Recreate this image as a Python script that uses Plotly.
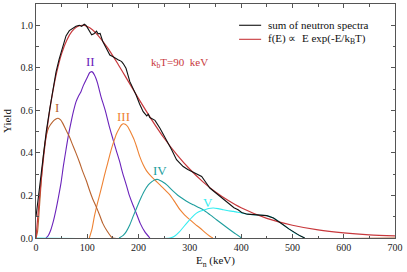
import plotly.graph_objects as go

# ---------------- data ----------------
sum_E = [0, 5, 10, 15, 20, 27, 33, 39, 45, 52, 58.5, 65, 71.5, 78, 84.5, 89, 94, 97, 100, 104,
         108.5, 113, 118, 121, 125, 130, 137, 144, 149.5, 154, 160, 163, 167, 170, 175.5, 183, 190,
         195, 202, 209, 216, 219, 222, 226, 232, 241.7, 248, 254.8, 264.5, 274, 287, 296, 303.5,
         313, 323, 331, 339, 349, 359, 368, 378, 386, 394, 401, 412, 424, 438, 450, 463, 472, 482,
         493, 505, 515, 524]
sum_Y = [0.10, 0.20, 0.31, 0.41, 0.50, 0.61, 0.70, 0.78, 0.84, 0.90, 0.95, 0.975, 0.985, 0.995,
         1.0, 0.995, 1.005, 1.0, 0.99, 0.975, 0.955, 0.96, 0.972, 0.96, 0.962, 0.925, 0.89, 0.86,
         0.853, 0.845, 0.838, 0.835, 0.829, 0.82, 0.798, 0.735, 0.70, 0.673, 0.63, 0.594, 0.574,
         0.582, 0.566, 0.56, 0.553, 0.516, 0.49, 0.461, 0.415, 0.368, 0.336, 0.322, 0.313, 0.305,
         0.289, 0.262, 0.235, 0.215, 0.195, 0.175, 0.156, 0.142, 0.133, 0.120, 0.112, 0.109, 0.107,
         0.105, 0.094, 0.080, 0.062, 0.043, 0.023, 0.010, 0.0]

fit_E = [0, 5, 10, 15, 20, 30, 40, 50, 60, 70, 80, 90, 100, 110, 120, 140, 160, 180, 200, 225,
         250, 275, 300, 325, 350, 375, 400, 450, 500, 550, 600, 650, 700]
fit_Y = [0, 0.143, 0.270, 0.384, 0.484, 0.649, 0.775, 0.867, 0.930, 0.971, 0.993, 1.0, 0.994,
         0.979, 0.955, 0.893, 0.817, 0.736, 0.655, 0.558, 0.469, 0.391, 0.323, 0.265, 0.216,
         0.176, 0.142, 0.092, 0.060, 0.038, 0.024, 0.015, 0.010]

I_E = [0, 3, 6, 10, 15, 20, 25, 32, 38, 43, 48, 52, 58, 65, 71, 78, 85, 91, 98, 104, 110, 117,
       124, 130, 138, 146, 150, 700]
I_Y = [0, 0.03, 0.12, 0.26, 0.40, 0.48, 0.52, 0.545, 0.558, 0.563, 0.555, 0.540, 0.51, 0.477,
       0.44, 0.399, 0.355, 0.313, 0.27, 0.227, 0.187, 0.149, 0.108, 0.070, 0.035, 0.008, 0, 0]

II_E = [19.5, 24, 29, 34, 39, 44, 48.7, 53.5, 58.5, 63, 68, 73, 78, 83, 87.7, 92, 97.5, 101, 104,
        106.5, 108.5, 111, 113.7, 117, 120, 123, 126.7, 135, 143, 150, 156, 163, 169, 176, 182,
        189, 195, 203, 212, 222]
II_Y = [0, 0.012, 0.039, 0.08, 0.133, 0.195, 0.258, 0.34, 0.415, 0.48, 0.540, 0.595, 0.640, 0.668,
        0.688, 0.715, 0.743, 0.76, 0.775, 0.78, 0.782, 0.778, 0.767, 0.75, 0.728, 0.70, 0.665,
        0.60, 0.524, 0.465, 0.415, 0.36, 0.305, 0.25, 0.20, 0.155, 0.12, 0.07, 0.03, 0]

III_E = [104, 109, 113.7, 120, 126.7, 133, 139.8, 146, 152.7, 157, 162.5, 166, 170, 174, 178.7,
         183, 187, 191.7, 196, 202, 209, 215, 222, 232, 241.7, 251, 261, 270, 280.7, 290, 300,
         310, 319.7, 330, 339, 345]
III_Y = [0, 0.04, 0.10, 0.165, 0.227, 0.29, 0.352, 0.41, 0.461, 0.49, 0.516, 0.53, 0.537, 0.535,
         0.524, 0.505, 0.485, 0.46, 0.43, 0.385, 0.344, 0.318, 0.297, 0.272, 0.250, 0.227, 0.203,
         0.172, 0.133, 0.108, 0.086, 0.065, 0.047, 0.025, 0.008, 0]

IV_E = [162, 170, 176, 183, 190, 196, 203, 211, 219, 226, 232, 238, 242, 248, 255, 261, 268, 277,
        287, 297, 307, 316, 326, 339, 352, 365, 378, 390, 401]
IV_Y = [0, 0.012, 0.03, 0.062, 0.105, 0.14, 0.18, 0.22, 0.25, 0.265, 0.274, 0.275, 0.270, 0.262,
        0.250, 0.236, 0.219, 0.20, 0.183, 0.168, 0.156, 0.145, 0.133, 0.11, 0.086, 0.062, 0.039,
        0.018, 0]

V_E = [0, 261, 270, 280, 294, 304, 313, 321, 329, 337, 346, 355, 365, 375, 385, 393, 401, 412,
       424, 438, 450, 463, 472, 482, 493, 505, 515, 524]
V_Y = [0, 0, 0.008, 0.03, 0.07, 0.097, 0.117, 0.127, 0.133, 0.139, 0.141, 0.138, 0.133, 0.128,
       0.125, 0.121, 0.118, 0.112, 0.109, 0.107, 0.105, 0.094, 0.080, 0.062, 0.043, 0.023, 0.010, 0]

x_ticks = [0, 100, 200, 300, 400, 500, 600, 700]
y_ticks = [0.0, 0.2, 0.4, 0.6, 0.8, 1.0]
y_tick_labels = ["0.0", "0.2", "0.4", "0.6", "0.8", "1.0"]

# ---------------- styles ----------------
C_I = "#b8622e"
C_II = "#6a22bb"
C_III = "#ee8233"
C_IV = "#1f9e9e"
C_V = "#35ecf0"
C_FIT = "#c8383c"
C_SUM = "#111111"
FONT = "Liberation Serif, Times New Roman, Times, serif"

fig = go.Figure()

def comp(x, y, c, name, shape="spline"):
    fig.add_trace(go.Scatter(x=x, y=y, mode="lines", name=name, showlegend=False,
                             line=dict(color=c, width=1.1, shape=shape, smoothing=0.6)))

comp(II_E, II_Y, C_II, "II")
comp(III_E, III_Y, C_III, "III")
comp(IV_E, IV_Y, C_IV, "IV")
comp(V_E, V_Y, C_V, "V")
comp(I_E, I_Y, C_I, "I")
fig.add_trace(go.Scatter(x=fit_E, y=fit_Y, mode="lines", name="fit", showlegend=False,
                         line=dict(color=C_FIT, width=1.2, shape="spline", smoothing=0.8)))
fig.add_trace(go.Scatter(x=sum_E, y=sum_Y, mode="lines", name="sum", showlegend=False,
                         line=dict(color=C_SUM, width=1.1)))

# manual legend (data coordinates)
legend_rows = [("sum of neutron spectra", C_SUM, 1.0),
               ("f(E) \u221d  E exp(-E/k<sub>B</sub>T)", C_FIT, 0.934)]
for txt, col, yy in legend_rows:
    fig.add_shape(type="line", x0=396, x1=439, y0=yy, y1=yy, xref="x", yref="y",
                  line=dict(color=col, width=1.1))
    fig.add_annotation(x=448, y=yy, xref="x", yref="y", text=txt, showarrow=False,
                       xanchor="left", yanchor="middle",
                       font=dict(family=FONT, size=11, color="#111111"))

labels = [("I", 41, 0.615, C_I), ("II", 107, 0.83, C_II), ("III", 171.5, 0.572, C_III),
          ("IV", 242, 0.318, C_IV), ("V", 335, 0.168, C_V)]
for t, xx, yy, c in labels:
    fig.add_annotation(x=xx, y=yy, text=t, showarrow=False, xanchor="center", yanchor="middle",
                       font=dict(family=FONT, size=13, color=c))

fig.add_annotation(x=279, y=0.823, text="k<sub>b</sub>T=90  keV", showarrow=False,
                   xanchor="center", yanchor="middle",
                   font=dict(family=FONT, size=11, color=C_FIT))

axis_common = dict(showgrid=False, zeroline=False, showline=True, linecolor="#555555",
                   linewidth=1, mirror="ticks", ticks="inside", ticklen=4, tickcolor="#555555",
                   tickfont=dict(family=FONT, size=10, color="#222222"))

fig.update_xaxes(range=[0, 700], tickvals=x_ticks, ticktext=[str(v) for v in x_ticks],
                 minor=dict(dtick=50, ticks="inside", ticklen=2.5, tickcolor="#555555"),
                 title=dict(text="E<sub>n</sub> (keV)", standoff=4,
                            font=dict(family=FONT, size=11, color="#111111")),
                 **axis_common)
fig.update_yaxes(range=[0, 1.1], tickvals=y_ticks, ticktext=y_tick_labels,
                 minor=dict(dtick=0.1, ticks="inside", ticklen=2.5, tickcolor="#555555"),
                 title=dict(text="Yield", standoff=6,
                            font=dict(family=FONT, size=11, color="#111111")),
                 **axis_common)

fig.update_layout(width=407, height=272, margin=dict(l=36, r=12, t=4, b=34),
                  plot_bgcolor="white", paper_bgcolor="white", showlegend=False,
                  font=dict(family=FONT))

fig.write_html("out.html", config={"displayModeBar": False},
               post_script="document.body.style.margin='0';document.body.style.overflow='hidden';")
